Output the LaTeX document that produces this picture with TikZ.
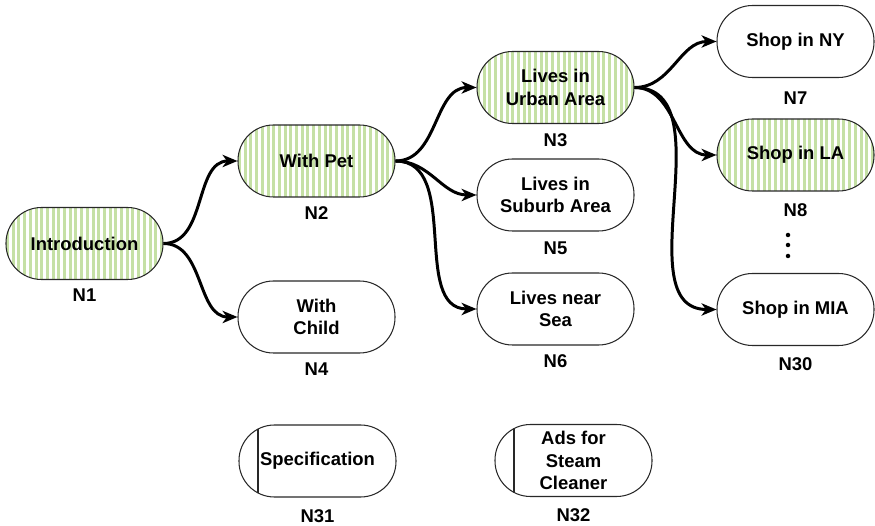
\documentclass[tikz,border=0pt]{standalone}
\usepackage{fontspec}
\setmainfont{Liberation Sans}
\usetikzlibrary{
    arrows.meta,
    positioning
}
\definecolor{StripeGreen}{RGB}{197,224,165}
\definecolor{EdgeGray}{RGB}{40,40,40}
\tikzset{
  pill/.style    = {draw=EdgeGray, line width=0.6pt, rounded corners=0.71cm,
                    minimum width=3.14cm, minimum height=1.44cm, inner sep=0pt,
                    align=center, font=\fontsize{10.5}{12.9}\selectfont\bfseries},
  striped/.style = {pill, path picture={
                      \foreach \k in {0,...,28}
                        \fill[StripeGreen, sharp corners]
                          ([xshift=\k*0.114cm]path picture bounding box.south west)
                          rectangle +(0.06,1.5);}},
  spec/.style    = {pill, path picture={
                      \draw[EdgeGray, line width=0.6pt, sharp corners]
                        ([xshift=0.38cm]path picture bounding box.south west) --
                        ([xshift=0.38cm]path picture bounding box.north west);}},
  tag/.style     = {inner sep=2pt, font=\fontsize{10.5}{12.9}\selectfont\bfseries},
  link/.style    = {-{Stealth[length=8.5pt,width=7pt,inset=2.5pt]}, line width=1.7pt}
}

\begin{document}
\begin{tikzpicture}
    \useasboundingbox (0,0) rectangle (17.5,-10.52);

    \node[striped] (n1) at (1.69, -4.87) {Introduction};
    \node[tag, below=3pt of n1] (t1) {N1};

    \node[striped] (n2) at (6.33, -3.22) {With Pet};
    \node[tag, below=3pt of n2] (t2) {N2};

    \node[pill] (n4) at (6.33, -6.34) {With\\Child};
    \node[tag, below=3pt of n4] (t4) {N4};

    \node[striped] (n3) at (11.11, -1.75) {Lives in\\Urban Area};
    \node[tag, below=3pt of n3] (t3) {N3};

    \node[pill] (n5) at (11.11, -3.90) {Lives in\\Suburb Area};
    \node[tag, below=3.5pt of n5] (t5) {N5};

    \node[pill] (n6) at (11.11, -6.18) {Lives near\\Sea};
    \node[tag, below=3pt of n6] (t6) {N6};

    \node[pill] (n7) at (15.91, -0.83) {Shop in NY};
    \node[tag, below=5.5pt of n7] (t7) {N7};

    \node[striped] (n8) at (15.91, -3.10) {Shop in LA};
    \node[tag, below=4.5pt of n8] (t8) {N8};

    \node[pill] (n30) at (15.91, -6.19) {Shop in MIA};
    \node[tag, below=4.5pt of n30] (t30) {N30};

    \foreach \y in {4.70, 4.90, 5.12}
      \fill (15.76, -\y) circle (0.045);

    \node[spec] (n31) at (6.35, -9.22) {Specification};
    \node[tag, below=4.5pt of n31] (t31) {N31};

    \node[spec] (n32) at (11.47, -9.21) {Ads for\\Steam\\Cleaner};
    \node[tag, below=4.5pt of n32] (t32) {N32};

    \draw[link] (n1.east) to[out=0, in=180] (n2.west);
    \draw[link] (n1.east) to[out=0, in=180] (n4.west);
    \draw[link] (n2.east) to[out=0, in=180] (n3.west);
    \draw[link] (n2.east) to[out=0, in=180] (n5.west);
    \draw[link] (n2.east) to[out=0, in=180] (n6.west);
    \draw[link] (n3.east) to[out=0, in=180] (n7.west);
    \draw[link] (n3.east) to[out=0, in=180] (n8.west);
    \draw[link] (n3.east) to[out=0, in=180] (n30.west);
  \end{tikzpicture}
\end{document}
